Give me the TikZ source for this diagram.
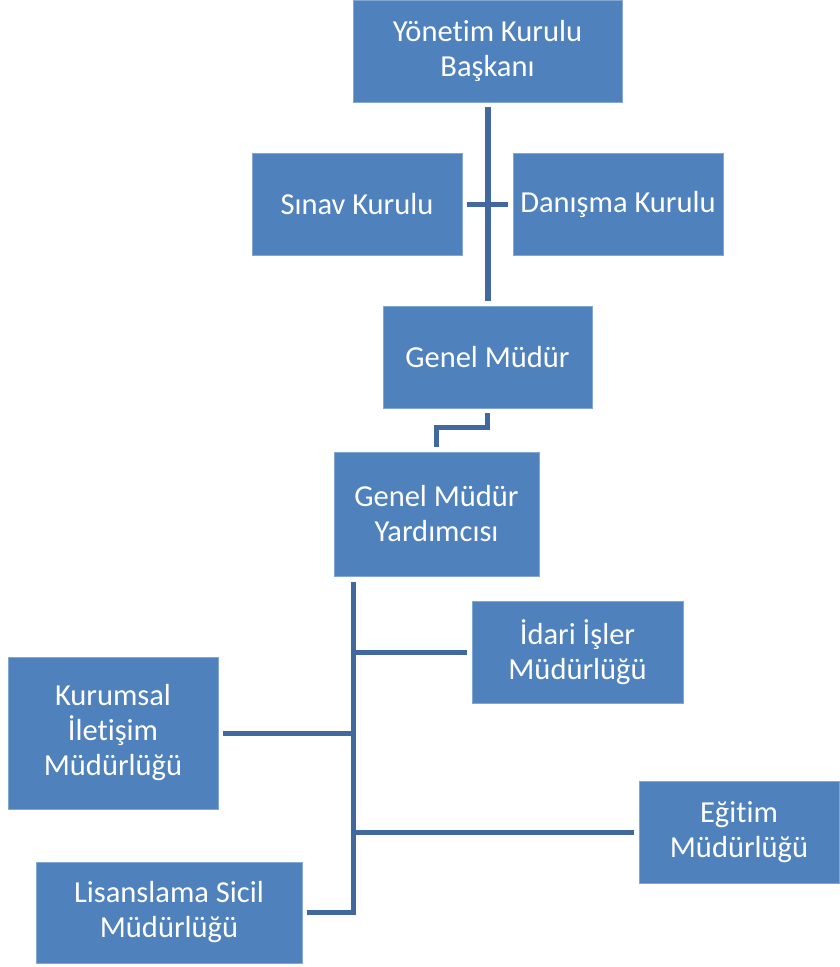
\documentclass[tikz,border=0pt]{standalone}
\usepackage{fontspec}
\setmainfont{Carlito}[Ligatures=NoCommon]
\definecolor{boxblue}{HTML}{4F81BD}
\definecolor{lineblue}{HTML}{41699E}
\begin{document}
\begin{tikzpicture}[x=1pt,y=-1pt,
  orgbox/.style={rectangle, fill=boxblue, draw=boxblue!70!white, line width=0.6pt, inner sep=0pt,
    text=white, align=center, font=\fontsize{30.5}{35}\selectfont},
  conn/.style={draw=lineblue, line width=5pt, shorten <=5pt, shorten >=5pt}]
\useasboundingbox (0,0) rectangle (840,967);
\node[orgbox, minimum width=269pt, minimum height=102pt] (yk) at (487.5,51) {Yönetim Kurulu\\Başkanı};
\node[orgbox, minimum width=210pt, minimum height=102pt] (sinav) at (357,204) {Sınav Kurulu};
\node[orgbox, minimum width=210pt, minimum height=102pt] (danisma) at (618,204) {Danışma Kurulu};
\node[orgbox, minimum width=209pt, minimum height=102pt] (gm) at (487.5,357) {Genel Müdür};
\node[orgbox, minimum width=205pt, minimum height=124pt] (gmy) at (436.5,514) {Genel Müdür\\Yardımcısı};
\node[orgbox, minimum width=211pt, minimum height=102pt] (idari) at (577.5,652) {İdari İşler\\Müdürlüğü};
\node[orgbox, minimum width=210pt, minimum height=152pt] (kurumsal) at (113,733) {Kurumsal\\İletişim\\Müdürlüğü};
\node[orgbox, minimum width=200pt, minimum height=102pt] (egitim) at (739,832) {Eğitim\\Müdürlüğü};
\node[orgbox, minimum width=266pt, minimum height=101pt] (lisans) at (169,912.5) {Lisanslama Sicil\\Müdürlüğü};
% top spine
\draw[conn, line width=6pt] (yk.south) -- (gm.north);
\draw[conn] (sinav.east) -- (danisma.west);
% GM to GMY
\draw[conn, line width=4.5pt] (gm.south) -- ++(0,19) -| (gmy.north);
% lower trunk
\coordinate (t0) at (353,582);
\coordinate (t1) at (353,915);
\draw[draw=lineblue, line width=5pt] (t0) -- (t1);
\draw[conn, shorten <=0pt] (idari.west -| t0) -- (idari.west);
\draw[conn, shorten <=0pt] (kurumsal.east -| t0) -- (kurumsal.east);
\draw[conn, shorten <=0pt] (egitim.west -| t0) -- (egitim.west);
\draw[conn, shorten <=-2.5pt] (lisans.east -| t0) -- (lisans.east);
\end{tikzpicture}
\end{document}
